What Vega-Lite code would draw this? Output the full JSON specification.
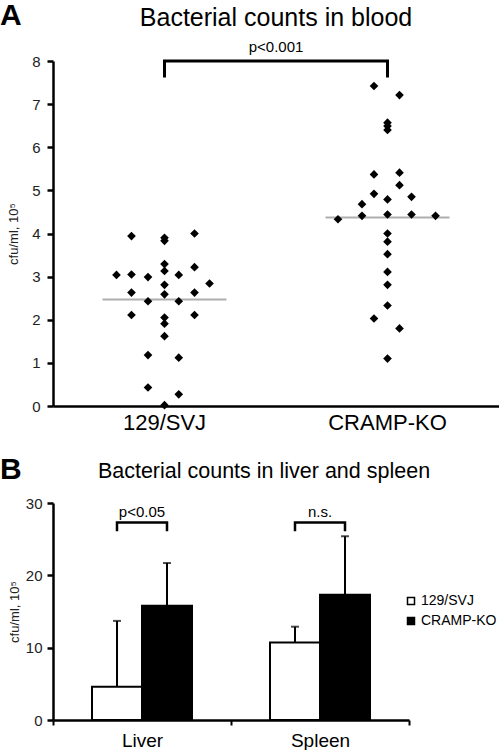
{
  "$schema": "https://vega.github.io/schema/vega-lite/v6.json",
  "background": "white",
  "padding": {"left": 0, "right": 0, "top": 0, "bottom": 0},
  "config": {
    "font": "Liberation Sans",
    "view": {"stroke": null},
    "axis": {"grid": false, "domainColor": "black", "tickColor": "black", "labelColor": "#222", "titleColor": "#222", "labelFont": "Liberation Sans", "titleFont": "Liberation Sans", "titleFontWeight": "normal"},
    "title": {"font": "Liberation Sans", "fontWeight": "normal", "color": "black"}
  },
  "datasets": {
    "blood": [
      {"group": "129/SVJ", "cfu": 3.94, "jitter": -2.2},
      {"group": "129/SVJ", "cfu": 3.90, "jitter": 0},
      {"group": "129/SVJ", "cfu": 3.83, "jitter": 0},
      {"group": "129/SVJ", "cfu": 4.00, "jitter": 2},
      {"group": "129/SVJ", "cfu": 3.29, "jitter": 0},
      {"group": "129/SVJ", "cfu": 3.13, "jitter": 0},
      {"group": "129/SVJ", "cfu": 3.22, "jitter": 2},
      {"group": "129/SVJ", "cfu": 3.04, "jitter": -3.2},
      {"group": "129/SVJ", "cfu": 3.05, "jitter": -2.2},
      {"group": "129/SVJ", "cfu": 2.99, "jitter": -1.1},
      {"group": "129/SVJ", "cfu": 3.04, "jitter": 0.95},
      {"group": "129/SVJ", "cfu": 2.84, "jitter": 3},
      {"group": "129/SVJ", "cfu": 2.81, "jitter": 0},
      {"group": "129/SVJ", "cfu": 2.63, "jitter": -2.2},
      {"group": "129/SVJ", "cfu": 2.59, "jitter": 0},
      {"group": "129/SVJ", "cfu": 2.63, "jitter": 2},
      {"group": "129/SVJ", "cfu": 2.43, "jitter": -1.1},
      {"group": "129/SVJ", "cfu": 2.43, "jitter": 0.95},
      {"group": "129/SVJ", "cfu": 2.11, "jitter": -2.2},
      {"group": "129/SVJ", "cfu": 2.11, "jitter": 2},
      {"group": "129/SVJ", "cfu": 2.05, "jitter": 0},
      {"group": "129/SVJ", "cfu": 1.91, "jitter": 0},
      {"group": "129/SVJ", "cfu": 1.62, "jitter": 0},
      {"group": "129/SVJ", "cfu": 1.18, "jitter": -1.1},
      {"group": "129/SVJ", "cfu": 1.12, "jitter": 0.95},
      {"group": "129/SVJ", "cfu": 0.43, "jitter": -1.1},
      {"group": "129/SVJ", "cfu": 0.27, "jitter": 0.95},
      {"group": "129/SVJ", "cfu": 0.02, "jitter": 0},
      {"group": "CRAMP-KO", "cfu": 7.42, "jitter": -0.9},
      {"group": "CRAMP-KO", "cfu": 7.21, "jitter": 0.8},
      {"group": "CRAMP-KO", "cfu": 6.57, "jitter": 0},
      {"group": "CRAMP-KO", "cfu": 6.49, "jitter": 0},
      {"group": "CRAMP-KO", "cfu": 6.40, "jitter": 0},
      {"group": "CRAMP-KO", "cfu": 5.37, "jitter": -0.9},
      {"group": "CRAMP-KO", "cfu": 5.41, "jitter": 0.8},
      {"group": "CRAMP-KO", "cfu": 5.12, "jitter": 0.8},
      {"group": "CRAMP-KO", "cfu": 4.92, "jitter": -0.9},
      {"group": "CRAMP-KO", "cfu": 4.79, "jitter": 0},
      {"group": "CRAMP-KO", "cfu": 4.85, "jitter": 1.6},
      {"group": "CRAMP-KO", "cfu": 4.68, "jitter": -1.7},
      {"group": "CRAMP-KO", "cfu": 4.41, "jitter": -1.7},
      {"group": "CRAMP-KO", "cfu": 4.44, "jitter": 0},
      {"group": "CRAMP-KO", "cfu": 4.44, "jitter": 1.6},
      {"group": "CRAMP-KO", "cfu": 4.41, "jitter": 3.2},
      {"group": "CRAMP-KO", "cfu": 4.33, "jitter": -3.3},
      {"group": "CRAMP-KO", "cfu": 4.00, "jitter": 0},
      {"group": "CRAMP-KO", "cfu": 3.81, "jitter": 0},
      {"group": "CRAMP-KO", "cfu": 3.52, "jitter": 0},
      {"group": "CRAMP-KO", "cfu": 3.11, "jitter": 0},
      {"group": "CRAMP-KO", "cfu": 2.81, "jitter": 0},
      {"group": "CRAMP-KO", "cfu": 2.33, "jitter": 0},
      {"group": "CRAMP-KO", "cfu": 2.03, "jitter": -0.9},
      {"group": "CRAMP-KO", "cfu": 1.80, "jitter": 0.8},
      {"group": "CRAMP-KO", "cfu": 1.10, "jitter": 0}
    ],
    "bloodMedian": [
      {"group": "129/SVJ", "median": 2.47},
      {"group": "CRAMP-KO", "median": 4.37}
    ],
    "bloodBracket": [
      {"group": "129/SVJ", "y": 7.62, "ord": 1},
      {"group": "129/SVJ", "y": 8, "ord": 2},
      {"group": "CRAMP-KO", "y": 8, "ord": 3},
      {"group": "CRAMP-KO", "y": 7.62, "ord": 4}
    ],
    "bloodLabel": [{"label": "p<0.001", "y": 8.32}],
    "organ": [
      {"tissue": "Liver", "group": "129/SVJ", "mean": 4.6, "upper": 13.7},
      {"tissue": "Liver", "group": "CRAMP-KO", "mean": 15.8, "upper": 21.7},
      {"tissue": "Spleen", "group": "129/SVJ", "mean": 10.7, "upper": 12.9},
      {"tissue": "Spleen", "group": "CRAMP-KO", "mean": 17.3, "upper": 25.4}
    ],
    "organBracket": [
      {"tissue": "Liver", "group": "129/SVJ", "y": 26.1, "ord": 1},
      {"tissue": "Liver", "group": "129/SVJ", "y": 27.3, "ord": 2},
      {"tissue": "Liver", "group": "CRAMP-KO", "y": 27.3, "ord": 3},
      {"tissue": "Liver", "group": "CRAMP-KO", "y": 26.1, "ord": 4},
      {"tissue": "Spleen", "group": "129/SVJ", "y": 26.1, "ord": 1},
      {"tissue": "Spleen", "group": "129/SVJ", "y": 27.3, "ord": 2},
      {"tissue": "Spleen", "group": "CRAMP-KO", "y": 27.3, "ord": 3},
      {"tissue": "Spleen", "group": "CRAMP-KO", "y": 26.1, "ord": 4}
    ],
    "organLabel": [
      {"tissue": "Liver", "label": "p<0.05", "y": 28.8},
      {"tissue": "Spleen", "label": "n.s.", "y": 28.8}
    ]
  },
  "spacing": 21,
  "vconcat": [
    {
      "width": 446,
      "height": 345,
      "title": {"text": "Bacterial counts in blood", "fontSize": 25, "anchor": "middle", "frame": "group", "offset": -30},
      "layer": [
        {
          "data": {"name": "bloodMedian"},
          "mark": {"type": "tick", "color": "#8c8c8c", "size": 124, "thickness": 2},
          "encoding": {
            "x": {"field": "group", "type": "nominal", "sort": ["129/SVJ", "CRAMP-KO"], "scale": {"paddingInner": 0, "paddingOuter": 0},
              "axis": {"title": null, "labelAngle": 0, "labelFontSize": 22, "labelColor": "black", "ticks": false, "domainWidth": 2.5, "labelPadding": 6}},
            "y": {"field": "median", "type": "quantitative", "scale": {"domain": [0, 8]},
              "axis": {"title": "cfu/ml, 10⁵", "values": [0, 1, 2, 3, 4, 5, 6, 7, 8], "tickSize": 6, "tickWidth": 2.5, "domainWidth": 2.5, "labelPadding": 7, "labelFontSize": 15, "titleFontSize": 13, "titlePadding": 11}}
          }
        },
        {
          "data": {"name": "blood"},
          "mark": {"type": "point", "shape": "diamond", "filled": true, "size": 75, "color": "black", "opacity": 1},
          "encoding": {
            "x": {"field": "group", "type": "nominal"},
            "xOffset": {"field": "jitter", "type": "quantitative", "scale": {"domain": [-7.43, 7.43]}},
            "y": {"field": "cfu", "type": "quantitative"}
          }
        },
        {
          "data": {"name": "bloodBracket"},
          "mark": {"type": "line", "color": "black", "strokeWidth": 3, "clip": false},
          "encoding": {
            "x": {"field": "group", "type": "nominal"},
            "y": {"field": "y", "type": "quantitative"},
            "order": {"field": "ord"}
          }
        },
        {
          "data": {"name": "bloodLabel"},
          "mark": {"type": "text", "fontSize": 15, "color": "black", "baseline": "middle"},
          "encoding": {
            "x": {"datum": "CRAMP-KO", "bandPosition": 0},
            "y": {"field": "y", "type": "quantitative"},
            "text": {"field": "label"}
          }
        },
        {
          "data": {"values": [{"panel": "A"}]},
          "mark": {"type": "text", "fontSize": 30, "fontWeight": "bold", "color": "black", "align": "left", "baseline": "middle", "dx": -53},
          "encoding": {
            "x": {"datum": "129/SVJ", "bandPosition": 0},
            "y": {"datum": 9.05},
            "text": {"field": "panel"}
          }
        }
      ]
    },
    {
      "width": 356,
      "height": 217,
      "title": {"text": "Bacterial counts in liver and spleen", "fontSize": 21.5, "anchor": "middle", "frame": "group", "offset": -28, "dx": 33},
      "layer": [
        {
          "data": {"name": "organ"},
          "mark": {"type": "bar", "stroke": "black", "strokeWidth": 2},
          "encoding": {
            "x": {"field": "tissue", "type": "nominal", "sort": ["Liver", "Spleen"], "scale": {"paddingInner": 0, "paddingOuter": 0},
              "axis": {"title": null, "labelAngle": 0, "labelFontSize": 19, "labelColor": "black", "tickBand": "extent", "tickSize": 5, "tickWidth": 2, "domainWidth": 2.5, "labelPadding": 6}},
            "xOffset": {"field": "group", "type": "nominal", "sort": ["129/SVJ", "CRAMP-KO"], "scale": {"paddingInner": 0, "paddingOuter": 0.78}},
            "y": {"field": "mean", "type": "quantitative", "scale": {"domain": [0, 30]},
              "axis": {"title": "cfu/ml, 10⁵", "values": [0, 5, 10, 15, 20, 25, 30], "tickSize": 6, "tickWidth": 2.5, "domainWidth": 2.5, "labelPadding": 5, "labelFontSize": 15, "titleFontSize": 13, "titlePadding": 4}},
            "fill": {"field": "group", "type": "nominal", "sort": ["129/SVJ", "CRAMP-KO"], "scale": {"domain": ["129/SVJ", "CRAMP-KO"], "range": ["white", "black"]},
              "legend": {"orient": "none", "legendX": 351, "legendY": 533, "title": null, "symbolType": "square", "symbolSize": 49, "symbolStrokeColor": "black", "symbolStrokeWidth": 1.5, "labelFontSize": 14, "labelColor": "black", "rowPadding": 6, "labelOffset": 3}}
          }
        },
        {
          "data": {"name": "organ"},
          "mark": {"type": "rule", "color": "black", "strokeWidth": 2},
          "encoding": {
            "x": {"field": "tissue", "type": "nominal"},
            "xOffset": {"field": "group", "type": "nominal"},
            "y": {"field": "mean", "type": "quantitative"},
            "y2": {"field": "upper"}
          }
        },
        {
          "data": {"name": "organ"},
          "mark": {"type": "tick", "color": "black", "size": 8, "thickness": 2},
          "encoding": {
            "x": {"field": "tissue", "type": "nominal"},
            "xOffset": {"field": "group", "type": "nominal"},
            "y": {"field": "upper", "type": "quantitative"}
          }
        },
        {
          "data": {"name": "organBracket"},
          "mark": {"type": "line", "color": "black", "strokeWidth": 2.5},
          "encoding": {
            "x": {"field": "tissue", "type": "nominal"},
            "xOffset": {"field": "group", "type": "nominal"},
            "y": {"field": "y", "type": "quantitative"},
            "detail": {"field": "tissue"},
            "order": {"field": "ord"}
          }
        },
        {
          "data": {"name": "organLabel"},
          "mark": {"type": "text", "fontSize": 15, "color": "black", "baseline": "middle"},
          "encoding": {
            "x": {"field": "tissue", "type": "nominal"},
            "y": {"field": "y", "type": "quantitative"},
            "text": {"field": "label"}
          }
        },
        {
          "data": {"values": [{"panel": "B"}]},
          "mark": {"type": "text", "fontSize": 30, "fontWeight": "bold", "color": "black", "align": "left", "baseline": "middle", "dx": -53},
          "encoding": {
            "x": {"datum": "Liver", "bandPosition": 0},
            "y": {"datum": 34.6},
            "text": {"field": "panel"}
          }
        }
      ]
    }
  ]
}
